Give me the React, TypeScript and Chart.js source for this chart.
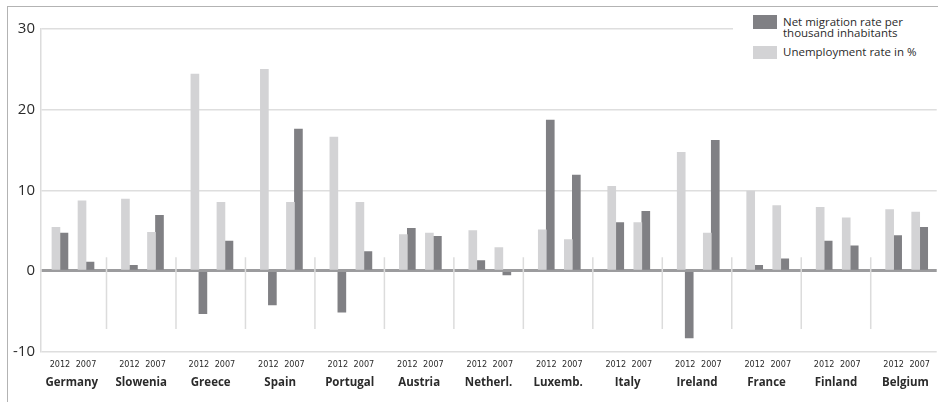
import React, { useEffect, useRef } from 'react';
import { Chart, registerables } from 'chart.js';

Chart.register(...registerables);

const countries = ['Germany', 'Slowenia', 'Greece', 'Spain', 'Portugal', 'Austria', 'Netherl.', 'Luxemb.', 'Italy', 'Ireland', 'France', 'Finland', 'Belgium'];
const years = ['2012', '2007'];
const unemployment2012 = [5.4, 8.9, 24.4, 25.0, 16.6, 4.5, 5.0, 5.1, 10.5, 14.7, 9.9, 7.9, 7.6];
const unemployment2007 = [8.7, 4.8, 8.5, 8.5, 8.5, 4.7, 2.9, 3.9, 6.0, 4.7, 8.1, 6.6, 7.3];
const migration2012 = [4.7, 0.7, -5.3, -4.2, -5.1, 5.3, 1.3, 18.7, 6.0, -8.3, 0.7, 3.7, 4.4];
const migration2007 = [1.1, 6.9, 3.7, 17.6, 2.4, 4.3, -0.5, 11.9, 7.4, 16.2, 1.5, 3.1, 5.4];
const yTicks = [-10, 0, 10, 20, 30];
const legendLabels = ['Net migration rate per thousand inhabitants', 'Unemployment rate in %'];

const LIGHT = '#d3d3d5';
const DARK = '#808084';
const SEP = '#dcdcdc';
const TEXT = '#2b2b2b';

// layout constants (positions within each country slot)
const YEAR_OFFSETS = [0.33, 0.705];
const COUNTRY_OFFSET = 0.5;
const SEP_RANGE: [number, number] = [-7.2, 1.7];

export default function App() {
  const ref = useRef<HTMLCanvasElement | null>(null);

  useEffect(() => {
    if (!ref.current) return;
    const slot = (i: number, k: number) => i + YEAR_OFFSETS[k];
    const lightData = countries.flatMap((_, i) => [
      { x: slot(i, 0), y: unemployment2012[i] },
      { x: slot(i, 1), y: unemployment2007[i] },
    ]);
    const darkData = countries.flatMap((_, i) => [
      { x: slot(i, 0), y: migration2012[i] },
      { x: slot(i, 1), y: migration2007[i] },
    ]);
    const sepData = countries.slice(1).map((_, j) => ({ x: j + 1, y: SEP_RANGE }));
    const yearTickValues = countries.flatMap((_, i) => [slot(i, 0), slot(i, 1)]);
    const countryTickValues = countries.map((_, i) => i + COUNTRY_OFFSET);

    const chart = new Chart(ref.current, {
      type: 'bar',
      data: {
        datasets: [
          {
            label: legendLabels[1],
            data: lightData as any,
            backgroundColor: LIGHT,
            barThickness: 8,
            borderWidth: 0,
            xAxisID: 'x',
            order: 1,
          },
          {
            label: legendLabels[0],
            data: darkData as any,
            backgroundColor: DARK,
            barThickness: 8,
            borderWidth: 0,
            xAxisID: 'x',
            order: 1,
          },
          {
            label: 'sep',
            data: sepData as any,
            backgroundColor: SEP,
            grouped: false,
            maxBarThickness: 1.5,
            borderWidth: 0,
            xAxisID: 'x',
            order: 2,
          } as any,
        ],
      },
      options: {
        responsive: false,
        animation: false,
        devicePixelRatio: 1,
        events: [],
        layout: { padding: { left: 0, top: 29, right: 0, bottom: 8.4 } },
        plugins: {
          legend: { display: false },
          tooltip: { enabled: false },
        },
        scales: {
          x: {
            type: 'linear',
            position: 'bottom',
            min: 0.05,
            max: 12.95,
            offset: false,
            weight: 0,
            grid: { display: false, drawTicks: false },
            border: { display: false },
            afterBuildTicks: (s: any) => {
              s.ticks = yearTickValues.map((v) => ({ value: v }));
            },
            afterFit: (s: any) => {
              s.height = 22;
            },
            ticks: {
              autoSkip: false,
              maxRotation: 0,
              padding: 8,
              color: TEXT,
              font: { family: '"Liberation Sans Narrow", "DejaVu Sans Condensed", "Roboto", sans-serif', size: 9 },
              callback: (_v: any, idx: number) => years[idx % 2],
            },
          },
          x2: {
            type: 'linear',
            position: 'bottom',
            min: 0.05,
            max: 12.95,
            offset: false,
            weight: 1,
            grid: { display: false, drawTicks: false },
            border: { display: false },
            afterBuildTicks: (s: any) => {
              s.ticks = countryTickValues.map((v) => ({ value: v }));
            },
            afterFit: (s: any) => {
              s.height = 20;
            },
            ticks: {
              autoSkip: false,
              maxRotation: 0,
              padding: 2,
              color: TEXT,
              font: { family: '"Open Sans", sans-serif', size: 11.5, weight: 'bold' },
              callback: (_v: any, idx: number) => countries[idx],
            },
          },
          y: {
            min: yTicks[0],
            max: yTicks[yTicks.length - 1],
            afterBuildTicks: (s: any) => {
              s.ticks = yTicks.map((v) => ({ value: v }));
            },
            afterFit: (s: any) => {
              s.width = 40.5;
            },
            grid: {
              drawTicks: false,
              color: (c: any) => (c.tick && c.tick.value === 0 ? '#9c9c9e' : '#dedede'),
              lineWidth: (c: any) => (c.tick && c.tick.value === 0 ? 3 : 1.5),
            },
            border: { display: true, color: '#dcdcdc', width: 1.5 },
            ticks: {
              padding: 5.5,
              color: TEXT,
              font: { family: '"Open Sans", sans-serif', size: 15 },
              callback: (v: any) => String(v),
            },
          },
        },
      },
    });
    return () => chart.destroy();
  }, []);

  const legendText: React.CSSProperties = {
    fontFamily: '"Open Sans", sans-serif',
    fontSize: 11.5,
    lineHeight: '10.8px',
    color: TEXT,
    whiteSpace: 'nowrap',
  };

  return (
    <div style={{ position: 'absolute', left: 0, top: 0, width: 938, height: 402, background: '#fff', overflow: 'hidden' }}>
      <canvas ref={ref} width={938} height={402} style={{ position: 'absolute', left: 0, top: 0 }} />
      <div
        style={{
          position: 'absolute',
          left: 7,
          top: 6,
          width: 940,
          height: 400,
          borderTop: '1.5px solid #b3b3b3',
          borderLeft: '1.5px solid #b3b3b3',
          pointerEvents: 'none',
        }}
      />
      <div style={{ position: 'absolute', left: 733, top: 9, width: 205, height: 56, background: '#fff' }}>
        <div style={{ position: 'absolute', left: 20, top: 6, width: 24, height: 14, background: DARK }} />
        <div style={{ position: 'absolute', left: 50, top: 8, ...legendText }}>
          Net migration rate per
          <br />
          thousand inhabitants
        </div>
        <div style={{ position: 'absolute', left: 20, top: 37, width: 24, height: 13, background: LIGHT }} />
        <div style={{ position: 'absolute', left: 50, top: 38, ...legendText }}>{legendLabels[1]}</div>
      </div>
    </div>
  );
}
